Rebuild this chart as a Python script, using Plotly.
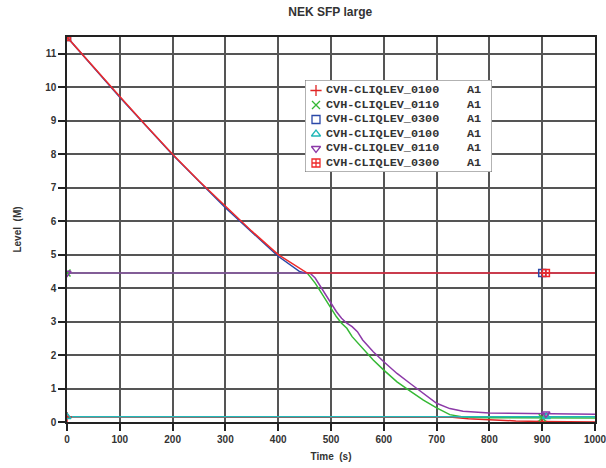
import numpy as np
import plotly.graph_objects as go

# ---------------- data ----------------
names = ["CVH-CLIQLEV_0100", "CVH-CLIQLEV_0110", "CVH-CLIQLEV_0300",
         "CVH-CLIQLEV_0100", "CVH-CLIQLEV_0110", "CVH-CLIQLEV_0300"]
case_tag = ["A1", "A1", "A1", "A1", "A1", "A1"]

t_0100a = [0, 700, 730, 760, 800, 850, 900, 1000]
v_0100a = [0.15, 0.15, 0.14, 0.10, 0.06, 0.03, 0.015, 0.0]

t_0110a = [0, 455, 460, 470, 480, 490, 500, 510, 520, 530, 540, 560, 580, 600,
           625, 650, 675, 700, 725, 750, 800, 1000]
v_0110a = [4.45, 4.45, 4.35, 4.15, 3.9, 3.65, 3.4, 3.15, 2.95, 2.8, 2.55, 2.2,
           1.85, 1.55, 1.2, 0.92, 0.65, 0.42, 0.22, 0.15, 0.13, 0.12]

t_0300a = [0, 100, 200, 300, 400, 440, 450, 1000]
v_0300a = [11.5, 9.7, 7.98, 6.4, 4.95, 4.5, 4.45, 4.45]

t_0100b = [0, 1000]
v_0100b = [0.16, 0.16]

t_0110b = [0, 460, 470, 480, 490, 500, 510, 520, 530, 540, 550, 560, 580, 600,
           625, 650, 675, 700, 725, 750, 800, 900, 1000]
v_0110b = [4.45, 4.45, 4.3, 4.05, 3.8, 3.55, 3.3, 3.1, 2.95, 2.85, 2.7, 2.45,
           2.1, 1.8, 1.45, 1.15, 0.85, 0.56, 0.4, 0.32, 0.27, 0.25, 0.23]

t_0300b = [0, 50, 100, 150, 200, 250, 300, 350, 400, 430, 455, 1000]
v_0300b = [11.5, 10.6, 9.72, 8.85, 8.0, 7.2, 6.45, 5.7, 5.0, 4.7, 4.45, 4.45]

series_t = [t_0100a, t_0110a, t_0300a, t_0100b, t_0110b, t_0300b]
series_v = [v_0100a, v_0110a, v_0300a, v_0100b, v_0110b, v_0300b]
marker_t = [[0, 900], [0, 900], [0, 900], [0, 908], [0, 907], [0, 907]]

colors = ["#e02424", "#35b835", "#2a48a8", "#22b8b8", "#8c3aa8", "#ee2a2a"]
symbols = ["cross-thin-open", "x-thin-open", "square-open",
           "triangle-up-open", "triangle-down-open", "square-cross-open"]

x_ticks = list(range(0, 1001, 100))
y_ticks = list(range(0, 12))

# ---------------- figure ----------------
fig = go.Figure()
for t, v, c in zip(series_t, series_v, colors):
    fig.add_trace(go.Scatter(x=t, y=v, mode="lines",
                             line=dict(color=c, width=1.5),
                             showlegend=False, hoverinfo="skip"))

for t, v, mt, c, s in zip(series_t, series_v, marker_t, colors, symbols):
    my = np.interp(mt, t, v)
    fig.add_trace(go.Scatter(x=mt, y=my, mode="markers", cliponaxis=True,
                             marker=dict(symbol=s, size=7, color=c,
                                         line=dict(color=c, width=1.5)),
                             showlegend=False, hoverinfo="skip"))

# ---- legend drawn in its own small subplot (pixel-like units) ----
LW, LH = 187, 92
rows = list(range(len(names)))
row_y = [10.5 + 14.5 * i for i in rows]
fig.add_trace(go.Scatter(x=[0, LW, LW, 0, 0], y=[0, 0, LH, LH, 0],
                         mode="lines", fill="toself", fillcolor="white",
                         line=dict(color="#666", width=1),
                         xaxis="x2", yaxis="y2", showlegend=False,
                         hoverinfo="skip", cliponaxis=False))
for i, (c, s) in enumerate(zip(colors, symbols)):
    fig.add_trace(go.Scatter(x=[11], y=[row_y[i]], mode="markers",
                             marker=dict(symbol=s, size=8, color=c,
                                         line=dict(color=c, width=1.3)),
                             xaxis="x2", yaxis="y2", showlegend=False,
                             hoverinfo="skip", cliponaxis=False))
legend_font = dict(family="Liberation Mono, Courier New, monospace",
                   size=11.8, color="#333", weight="bold")
fig.add_trace(go.Scatter(x=[21] * len(names), y=row_y, mode="text",
                         text=names, textposition="middle right",
                         textfont=legend_font, xaxis="x2", yaxis="y2",
                         showlegend=False, hoverinfo="skip", cliponaxis=False))
fig.add_trace(go.Scatter(x=[162] * len(names), y=row_y, mode="text",
                         text=case_tag, textposition="middle right",
                         textfont=legend_font, xaxis="x2", yaxis="y2",
                         showlegend=False, hoverinfo="skip", cliponaxis=False))

tick_font = dict(family="Liberation Sans Narrow, Liberation Sans, Arial",
                 size=10, color="#333", weight="bold")
axis_common = dict(showline=True, linecolor="#222", linewidth=1.5, mirror=True,
                   showgrid=True, gridcolor="#555", gridwidth=1.5,
                   ticks="outside", ticklen=7, tickcolor="#222", tickwidth=1.5,
                   zeroline=False, automargin=False, tickfont=tick_font,
                   ticklabeloverflow="allow")
title_font = dict(family="Liberation Sans, Arial", size=10, color="#333",
                  weight="bold")

fig.update_layout(
    width=606, height=468,
    margin=dict(l=67, r=11, t=37, b=46),
    paper_bgcolor="white", plot_bgcolor="white",
    showlegend=False,
    title=dict(text="NEK SFP large", x=0.545, xanchor="center", y=0.975,
               yanchor="middle",
               font=dict(family="Liberation Sans, Arial", size=12,
                         color="#333", weight="bold")),
    xaxis=dict(range=[0, 1000], tickvals=x_ticks, domain=[0, 1],
               title=dict(text="Time  (s)", standoff=9, font=title_font),
               **axis_common),
    yaxis=dict(range=[0, 11.5], tickvals=y_ticks, domain=[0, 1],
               title=dict(text="Level  (M)", standoff=22, font=title_font),
               **axis_common),
    xaxis2=dict(domain=[(305 - 67) / 528, (492 - 67) / 528], range=[0, LW],
                visible=False, anchor="y2", fixedrange=True),
    yaxis2=dict(domain=[(422 - 172) / 385, (422 - 80) / 385], range=[LH, 0],
                visible=False, anchor="x2", fixedrange=True),
)

fig.write_html("out.html")
